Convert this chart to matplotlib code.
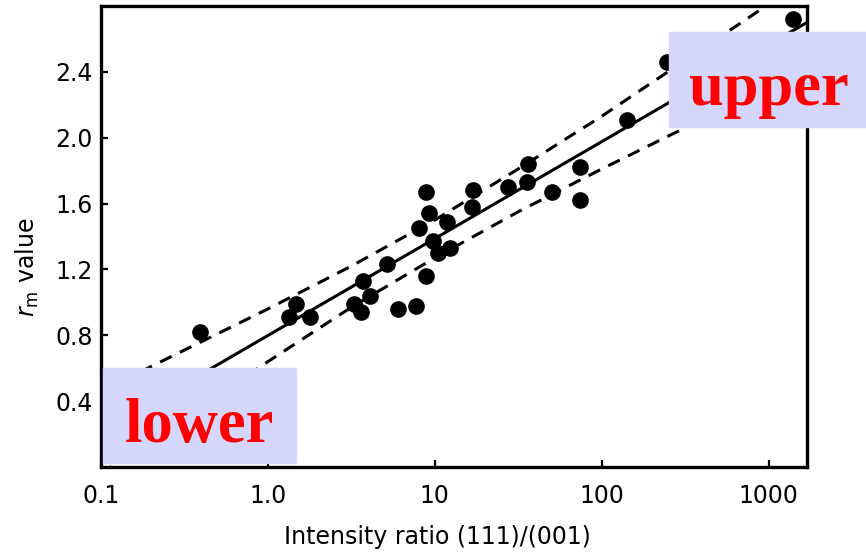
import numpy as np
import matplotlib
matplotlib.use("Agg")
import matplotlib.pyplot as plt
from matplotlib.patches import Rectangle

# measured points: intensity ratio (111)/(001) vs r_m value
ratio = [0.39, 1.33, 1.47, 1.80, 3.26, 3.59, 3.74, 4.12, 5.2, 6.05,
         7.76, 8.0, 8.8, 9.2, 8.8, 9.8, 10.4, 12.4, 11.9, 16.8,
         17.0, 27.5, 35.8, 36.3, 50.5, 74, 74, 142, 245, 1400]
rm = [0.82, 0.91, 0.99, 0.91, 0.99, 0.94, 1.13, 1.04, 1.23, 0.96,
      0.98, 1.45, 1.67, 1.54, 1.16, 1.37, 1.30, 1.33, 1.49, 1.58,
      1.68, 1.70, 1.73, 1.84, 1.67, 1.82, 1.62, 2.11, 2.46, 2.72]

# regression line and band
fit_x = [0.1, 1700]
fit_y = [0.21, 2.70]
band_x = [0.1, 0.316, 1, 3.16, 10, 31.6, 100, 316, 1000, 1700]
band_hi = [0.46, 0.71, 0.96, 1.22, 1.50, 1.81, 2.13, 2.47, 2.81, 2.97]
band_lo = [-0.04, 0.30, 0.64, 0.97, 1.27, 1.55, 1.81, 2.06, 2.31, 2.42]

xticks = [0.1, 1, 10, 100, 1000]
xticklabels = ["0.1", "1.0", "10", "100", "1000"]
yticks = [0.4, 0.8, 1.2, 1.6, 2.0, 2.4]

plt.rcParams["font.family"] = ["DejaVu Sans"]
plt.rcParams["mathtext.fontset"] = "dejavusans"

fig = plt.figure(figsize=(8.66, 5.53), dpi=100)
ax = fig.add_axes([0.1166, 0.1555, 0.8153, 0.8337])

ax.plot(fit_x, fit_y, color="black", lw=2.2, solid_capstyle="butt")
for band in (band_hi, band_lo):
    ax.plot(band_x, band, color="black", lw=2.2, linestyle=(0, (4.2, 3.0)))
ax.plot(ratio, rm, "o", color="black", ms=12, mec="none", clip_on=False, zorder=5)

ax.set_xscale("log")
ax.set_xlim(0.1, 1700)
ax.set_ylim(0.0, 2.8)
ax.set_xticks(xticks)
ax.set_xticklabels(xticklabels)
ax.xaxis.set_minor_locator(matplotlib.ticker.NullLocator())
ax.set_yticks(yticks)
ax.set_yticklabels([f"{v:.1f}" for v in yticks])

ax.tick_params(direction="in", length=5, width=1.6, labelsize=17)
ax.tick_params(axis="x", pad=12)
ax.tick_params(axis="y", pad=6)
for sp in ax.spines.values():
    sp.set_linewidth(2.4)

ax.set_xlabel("Intensity ratio (111)/(001)", fontsize=17)
ax.set_ylabel(r"$r_{\rm m}$ value", fontsize=17)
ax.xaxis.set_label_coords(0.477, -0.125)
ax.yaxis.set_label_coords(-0.085, 0.434)

# annotation boxes
box_col = "#d4d7fb"
fig.add_artist(Rectangle((0.1189, 0.1627), 0.2229, 0.1718,
                         transform=fig.transFigure, color=box_col, zorder=10))
fig.add_artist(Rectangle((0.7725, 0.7703), 0.2275, 0.1718,
                         transform=fig.transFigure, color=box_col, zorder=10))
fig.text(0.2298, 0.2007, "lower", color="red", fontsize=45, fontweight="bold",
         family="Liberation Serif", ha="center", va="baseline", zorder=11)
fig.text(0.8880, 0.8101, "upper", color="red", fontsize=45, fontweight="bold",
         family="Liberation Serif", ha="center", va="baseline", zorder=11)

fig.savefig("out.png", dpi=100)
